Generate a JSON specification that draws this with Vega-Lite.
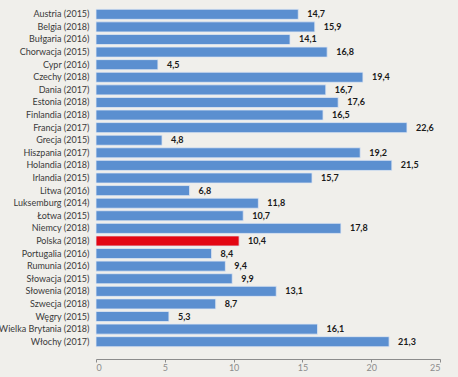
{
  "$schema": "https://vega.github.io/schema/vega-lite/v6.json",
  "width": 344,
  "height": 340,
  "autosize": {"type": "none"},
  "padding": {"left": 96, "top": 8, "right": 18, "bottom": 29},
  "background": "#f0efeb",
  "config": {"view": {"stroke": null}, "font": "Lato"},
  "data": {
    "values": [
      {"kraj": "Austria (2015)", "v": 14.7, "pl": "n", "t": "14,7"},
      {"kraj": "Belgia (2018)", "v": 15.9, "pl": "n", "t": "15,9"},
      {"kraj": "Bułgaria (2016)", "v": 14.1, "pl": "n", "t": "14,1"},
      {"kraj": "Chorwacja (2015)", "v": 16.8, "pl": "n", "t": "16,8"},
      {"kraj": "Cypr (2016)", "v": 4.5, "pl": "n", "t": "4,5"},
      {"kraj": "Czechy (2018)", "v": 19.4, "pl": "n", "t": "19,4"},
      {"kraj": "Dania (2017)", "v": 16.7, "pl": "n", "t": "16,7"},
      {"kraj": "Estonia (2018)", "v": 17.6, "pl": "n", "t": "17,6"},
      {"kraj": "Finlandia (2018)", "v": 16.5, "pl": "n", "t": "16,5"},
      {"kraj": "Francja (2017)", "v": 22.6, "pl": "n", "t": "22,6"},
      {"kraj": "Grecja (2015)", "v": 4.8, "pl": "n", "t": "4,8"},
      {"kraj": "Hiszpania (2017)", "v": 19.2, "pl": "n", "t": "19,2"},
      {"kraj": "Holandia (2018)", "v": 21.5, "pl": "n", "t": "21,5"},
      {"kraj": "Irlandia (2015)", "v": 15.7, "pl": "n", "t": "15,7"},
      {"kraj": "Litwa (2016)", "v": 6.8, "pl": "n", "t": "6,8"},
      {"kraj": "Luksemburg (2014)", "v": 11.8, "pl": "n", "t": "11,8"},
      {"kraj": "Łotwa (2015)", "v": 10.7, "pl": "n", "t": "10,7"},
      {"kraj": "Niemcy (2018)", "v": 17.8, "pl": "n", "t": "17,8"},
      {"kraj": "Polska (2018)", "v": 10.4, "pl": "y", "t": "10,4"},
      {"kraj": "Portugalia (2016)", "v": 8.4, "pl": "n", "t": "8,4"},
      {"kraj": "Rumunia (2016)", "v": 9.4, "pl": "n", "t": "9,4"},
      {"kraj": "Słowacja  (2015)", "v": 9.9, "pl": "n", "t": "9,9"},
      {"kraj": "Słowenia (2018)", "v": 13.1, "pl": "n", "t": "13,1"},
      {"kraj": "Szwecja (2018)", "v": 8.7, "pl": "n", "t": "8,7"},
      {"kraj": "Węgry (2015)", "v": 5.3, "pl": "n", "t": "5,3"},
      {"kraj": "Wielka Brytania (2018)", "v": 16.1, "pl": "n", "t": "16,1"},
      {"kraj": "Włochy (2017)", "v": 21.3, "pl": "n", "t": "21,3"}
    ]
  },
  "encoding": {
    "y": {
      "field": "kraj",
      "type": "nominal",
      "sort": null,
      "scale": {"paddingInner": 0.2, "paddingOuter": 0.1},
      "axis": {
        "title": null,
        "domain": false,
        "ticks": false,
        "labelPadding": 7,
        "labelFontSize": 9,
        "labelColor": "#3a3a3a",
        "labelFont": "Lato",
        "labelLimit": 0
      }
    },
    "x": {
      "field": "v",
      "type": "quantitative",
      "scale": {"domain": [0, 25], "nice": false},
      "axis": {
        "title": null,
        "values": [0, 5, 10, 15, 20, 25],
        "grid": false,
        "offset": 11,
        "domainColor": "#8c8c8c",
        "tickColor": "#8c8c8c",
        "tickSize": 3,
        "labelColor": "#8c8c8c",
        "labelFontSize": 9,
        "labelPadding": 1
      }
    }
  },
  "layer": [
    {
      "mark": {"type": "bar", "stroke": "#dfe7f3", "strokeWidth": 0.8},
      "encoding": {
        "color": {
          "field": "pl",
          "type": "nominal",
          "scale": {"domain": ["n", "y"], "range": ["#5b8fd0", "#e30613"]},
          "legend": null
        }
      }
    },
    {
      "mark": {"type": "text", "align": "left", "dx": 9, "fontWeight": "bold", "fontSize": 9, "color": "#1a1a1a"},
      "encoding": {"text": {"field": "t"}}
    }
  ]
}
